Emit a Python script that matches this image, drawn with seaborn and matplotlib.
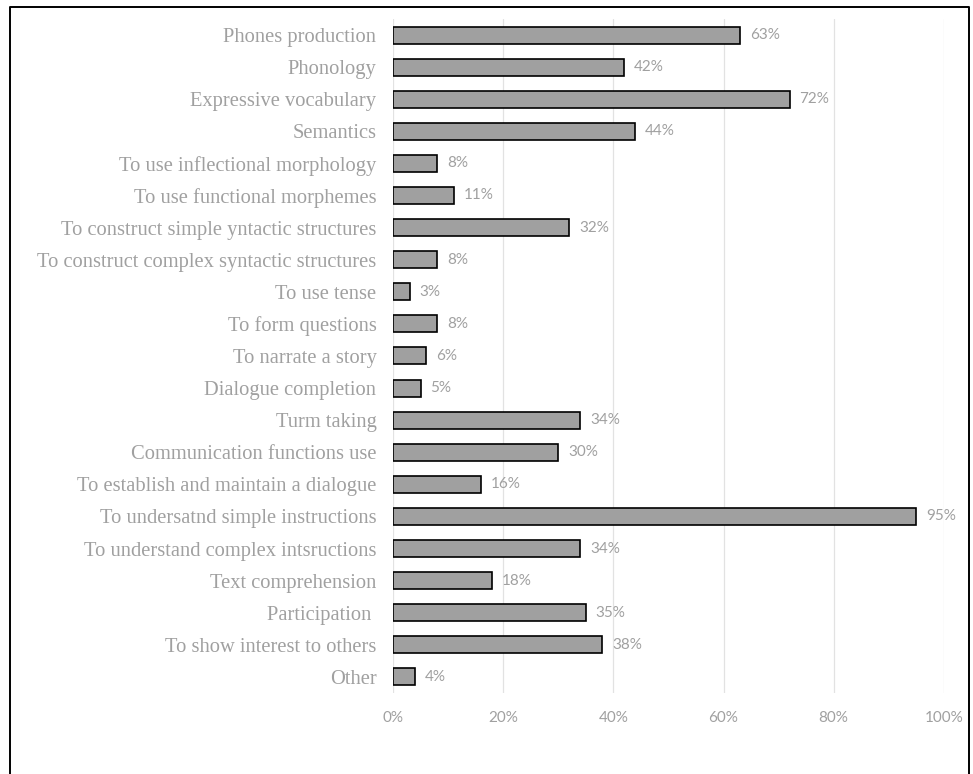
import matplotlib
matplotlib.use("Agg")
import matplotlib.pyplot as plt
import seaborn as sns
import pandas as pd
from matplotlib.lines import Line2D
from matplotlib.ticker import FuncFormatter

categories = [
    "Phones production", "Phonology", "Expressive vocabulary", "Semantics",
    "To use inflectional morphology", "To use functional morphemes",
    "To construct simple yntactic structures", "To construct complex syntactic structures",
    "To use tense", "To form questions", "To narrate a story", "Dialogue completion",
    "Turm taking", "Communication functions use", "To establish and maintain a dialogue",
    "To undersatnd simple instructions", "To understand complex intsructions",
    "Text comprehension", "Participation ", "To show interest to others", "Other",
]
values = [63, 42, 72, 44, 8, 11, 32, 8, 3, 8, 6, 5, 34, 30, 16, 95, 34, 18, 35, 38, 4]
value_labels = ["63%", "42%", "72%", "44%", "8%", "11%", "32%", "8%", "3%", "8%", "6%",
                "5%", "34%", "30%", "16%", "95%", "34%", "18%", "35%", "38%", "4%"]
xticks = [0, 20, 40, 60, 80, 100]

df = pd.DataFrame({"category": categories, "value": values})

sns.set_style("white")
fig = plt.figure(figsize=(9.73, 7.74), dpi=100)
ax = fig.add_axes([0.404, 0.1047, 0.566, 0.8708])

sns.barplot(data=df, x="value", y="category", orient="h", color="#a0a0a0",
            edgecolor="black", linewidth=1.2, width=0.53, saturation=1, ax=ax)

ax.set_xlim(0, 100)
ax.set_xticks(xticks)
ax.xaxis.set_major_formatter(FuncFormatter(lambda v, p: f"{int(v)}%"))
ax.grid(axis="x", color="#e2e2e2", linewidth=0.9)
ax.set_axisbelow(True)
for s in ax.spines.values():
    s.set_visible(False)
ax.set_xlabel("")
ax.set_ylabel("")
ax.tick_params(axis="both", length=0)
ax.tick_params(axis="x", pad=13)
ax.tick_params(axis="y", pad=12)

for lab in ax.get_yticklabels():
    lab.set_fontfamily("Liberation Serif")
    lab.set_fontsize(14.8)
    lab.set_color("#a0a0a0")
for lab in ax.get_xticklabels():
    lab.set_fontfamily("Lato")
    lab.set_fontsize(11)
    lab.set_color("#a0a0a0")

for i, (v, t) in enumerate(zip(values, value_labels)):
    ax.annotate(t, xy=(v, i), xytext=(7, 0), textcoords="offset points",
                va="center", ha="left", fontsize=11, color="#a0a0a0", family="Lato")

x0, x1, yt, yb = 10 / 973, 969 / 973, 1 - 7 / 774, -0.01
fig.add_artist(Line2D([x0, x0, x1, x1], [yb, yt, yt, yb], transform=fig.transFigure,
                      color="black", linewidth=1.4))

fig.savefig("out.png", dpi=100, facecolor="white")
